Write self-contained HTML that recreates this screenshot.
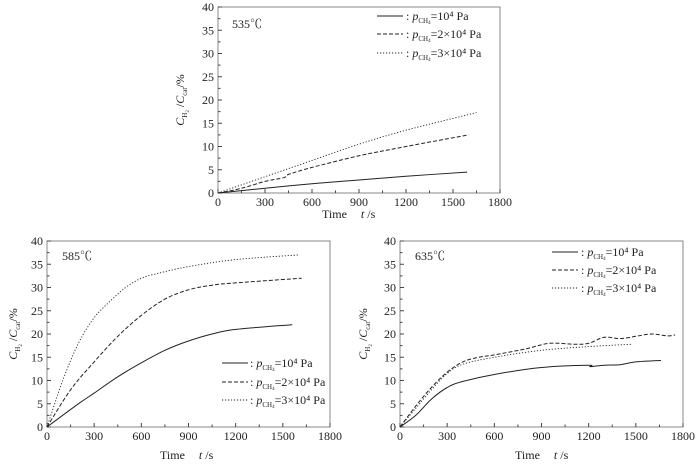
<!DOCTYPE html>
<html><head><meta charset="utf-8"><style>
html,body{margin:0;padding:0;background:#fff}
svg{display:block;font-family:"Liberation Serif","Noto Serif CJK SC",serif}
</style></head><body>
<svg id="fig" width="700" height="466" viewBox="0 0 700 466" xmlns="http://www.w3.org/2000/svg"></svg>
<script>
// ---- data (t in s, value in %) ----
const xTicks=[0,300,600,900,1200,1500,1800];
const yTicks=[0,5,10,15,20,25,30,35,40];
const temps=["535℃","585℃","635℃"];
// 535 C
const a_t1=[0,300,600,900,1200,1590], a_v1=[0,1,2,2.8,3.6,4.5];
const a_t2=[0,150,300,420,450,600,900,1200,1600], a_v2=[0,1,2.5,3.3,4,5.5,8,10,12.5];
const a_t3=[0,300,600,900,1200,1650], a_v3=[0,3.5,7,10.5,13.5,17.3];
// 585 C
const b_t1=[0,200,300,450,600,750,900,1050,1200,1560], b_v1=[0,5,7.3,10.8,13.8,16.5,18.5,20,21,22];
const b_t2=[0,150,300,450,600,750,900,1050,1200,1620], b_v2=[0,8,14,19.5,24,27.5,29.5,30.5,31,32];
const b_t3=[0,100,200,300,400,500,600,700,900,1200,1600], b_v3=[0,10,18,23.5,27,30,32,33,34.5,36,37];
// 635 C
const c_t1=[0,100,200,300,400,600,900,1200,1210,1300,1400,1500,1660], c_v1=[0,2.5,6,8.5,9.8,11.3,12.8,13.3,13,13.3,13.4,14,14.3];
const c_t2=[0,100,200,300,400,500,600,800,950,1100,1200,1300,1400,1500,1600,1700,1750], c_v2=[0,4.5,8.5,11.8,14,15,15.5,16.8,18,17.8,18,19.3,19,19.5,20,19.6,19.8];
const c_t3=[0,100,200,300,400,600,900,1200,1480], c_v3=[0,4,8,11.5,13.5,15,16.5,17.3,17.8];
const legendLabels=["=10⁴ Pa","=2×10⁴ Pa","=3×10⁴ Pa"];

const NS="http://www.w3.org/2000/svg";
const svg=document.getElementById('fig');
function mk(tag,attrs,parent){const e=document.createElementNS(NS,tag);for(const k in attrs)e.setAttribute(k,attrs[k]);(parent||svg).appendChild(e);return e;}
const dashes=["","4,2","1.2,1.8"];
function smooth(pts){
  let d='M'+pts[0][0].toFixed(1)+','+pts[0][1].toFixed(1);
  for(let i=0;i<pts.length-1;i++){
    const p0=pts[Math.max(0,i-1)],p1=pts[i],p2=pts[i+1],p3=pts[Math.min(pts.length-1,i+2)];
    const c1x=p1[0]+(p2[0]-p0[0])/6,c1y=p1[1]+(p2[1]-p0[1])/6;
    const c2x=p2[0]-(p3[0]-p1[0])/6,c2y=p2[1]-(p3[1]-p1[1])/6;
    d+=' C'+c1x.toFixed(1)+','+c1y.toFixed(1)+' '+c2x.toFixed(1)+','+c2y.toFixed(1)+' '+p2[0].toFixed(1)+','+p2[1].toFixed(1);
  }
  return d;
}

const panels=[
 {x0:218,x1:500,y0:193,y1:7,series:[[a_t1,a_v1],[a_t2,a_v2],[a_t3,a_v3]],leg:{lx:377,tx:406,ys:[16,34,53]},temp:{x:232,y:28},ylab:180,xlab:{x:322,y:218},name:"panel-535"},
 {x0:47,x1:330,y0:427,y1:241,series:[[b_t1,b_v1],[b_t2,b_v2],[b_t3,b_v3]],leg:{lx:222,tx:250,ys:[363,382,400]},temp:{x:62,y:260},ylab:13,xlab:{x:160,y:459},name:"panel-585"},
 {x0:400,x1:683,y0:427,y1:241,series:[[c_t1,c_v1],[c_t2,c_v2],[c_t3,c_v3]],leg:{lx:552,tx:581,ys:[252,270,288]},temp:{x:415,y:260},ylab:363,xlab:{x:515,y:459},name:"panel-635"}
];

panels.forEach((p,pi)=>{
  const g=mk('g',{});
  
  
  const sx=t=>p.x0+(t-0)/1800*(p.x1-p.x0);
  const sy=v=>p.y0+(v-0)/40*(p.y1-p.y0);
  const box=mk('rect',{x:p.x0,y:p.y1,width:p.x1-p.x0,height:p.y0-p.y1,fill:'none',stroke:'#888','stroke-width':1},g);
  
  
  for(let t=0;t<=1800;t+=150){
    const major=t%300===0;
    mk('line',{x1:sx(t),x2:sx(t),y1:p.y0,y2:p.y0-(major?4:2.5),stroke:'#444','stroke-width':1},g);
  }
  xTicks.forEach(t=>{
    const tx=mk('text',{x:sx(t),y:p.y0+13,'font-size':12,'text-anchor':'middle',fill:'#222'},g);
    tx.textContent=t;
    
    
  });
  for(let v=0;v<=40;v+=2.5){
    const major=v%5===0;
    mk('line',{x1:p.x0,x2:p.x0+(major?4:2.5),y1:sy(v),y2:sy(v),stroke:'#444','stroke-width':1},g);
  }
  yTicks.forEach(v=>{
    const tx=mk('text',{x:p.x0-4,y:sy(v)+4,'font-size':12,'text-anchor':'end',fill:'#222'},g);
    tx.textContent=v;
    
    
  });
  const yt=mk('text',{transform:`translate(${p.ylab+4},${(p.y0+p.y1)/2}) rotate(-90)`,'font-size':12,'text-anchor':'middle',fill:'#222'},g);
  yt.innerHTML='<tspan font-style="italic">C</tspan><tspan font-size="7" dy="3">H</tspan><tspan font-size="5" dy="2">2</tspan><tspan dy="-5"> /</tspan><tspan font-style="italic">C</tspan><tspan font-size="7" dy="3">cat</tspan><tspan dy="-3">/%</tspan>';
  
  
  const xt=mk('text',{x:p.xlab.x,y:p.xlab.y,'font-size':12,fill:'#222'},g);
  xt.innerHTML='Time<tspan dx="14" font-style="italic">t</tspan> /s';
  
  
  const tl=mk('text',{x:p.temp.x,y:p.temp.y,'font-size':12,fill:'#222'},g);
  tl.textContent=temps[pi];
  
  
  p.series.forEach((s,si)=>{
    const pts=s[0].map((t,i)=>[sx(t),sy(s[1][i])]);
    const path=mk('path',{d:smooth(pts),fill:'none',stroke:'#222','stroke-width':si===2?0.9:1,'stroke-dasharray':dashes[si]},g);
    
    
    const ly=p.leg.ys[si];
    const ll=mk('line',{x1:p.leg.lx,x2:p.leg.lx+26,y1:ly,y2:ly,stroke:'#222','stroke-width':1,'stroke-dasharray':dashes[si]},g);
    
    
    const lt=mk('text',{x:p.leg.tx,y:ly+4,'font-size':12,fill:'#222'},g);
    lt.innerHTML=': <tspan font-style="italic">p</tspan><tspan font-size="7" dy="3">CH</tspan><tspan font-size="5" dy="1">4</tspan><tspan dy="-4">'+legendLabels[si]+'</tspan>';
    
    
  });
});
</script>
</body></html>
